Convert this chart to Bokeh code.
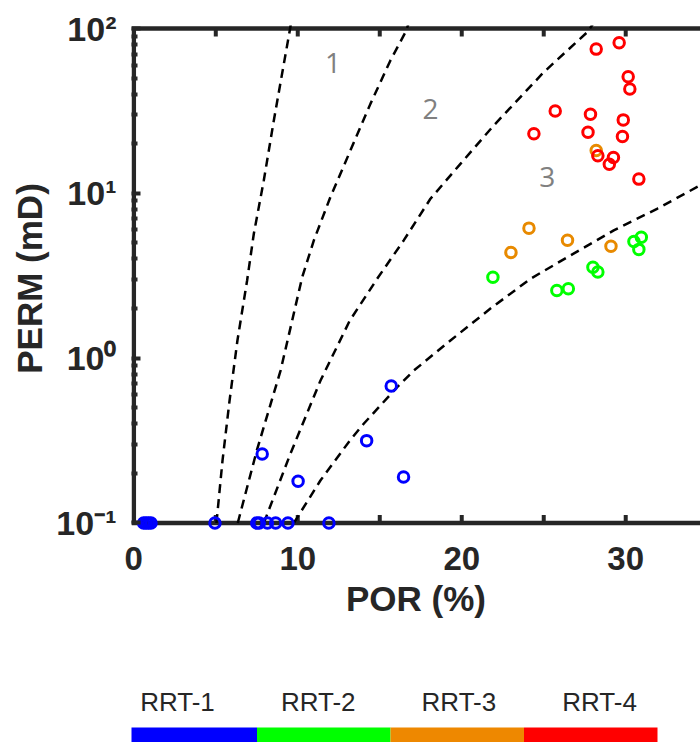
import numpy as np
from bokeh.plotting import figure
from bokeh.models import Range1d, FixedTicker, Span
from bokeh.layouts import column
from bokeh.embed import file_html
from bokeh.resources import INLINE
from bokeh.core.properties import value

# ---------------- data ----------------
rrt1_por = [0.6, 0.75, 0.9, 1.05, 4.95, 7.5, 7.65, 8.15, 8.65, 9.4, 11.9,
            7.83, 10.02, 14.2, 15.7, 16.45]
rrt1_perm = [0.1, 0.1, 0.1, 0.1, 0.1, 0.1, 0.1, 0.1, 0.1, 0.1, 0.1,
             0.262, 0.179, 0.316, 0.678, 0.19]

rrt2_por = [21.9, 25.8, 26.5, 28.0, 28.3, 30.5, 30.8, 30.95]
rrt2_perm = [3.1, 2.57, 2.64, 3.56, 3.33, 5.1, 4.57, 5.42]

rrt3_por = [23.0, 24.1, 26.45, 28.2, 29.1]
rrt3_perm = [4.38, 6.15, 5.2, 18.2, 4.77]

rrt4_por = [28.2, 29.6, 30.15, 30.25, 25.7, 27.85, 29.85, 24.4, 27.7, 29.8,
            28.3, 29.25, 29.0, 30.8]
rrt4_perm = [75, 82, 51, 43, 31.6, 30.2, 27.9, 23.0, 23.5, 22.1,
             16.9, 16.5, 15.0, 12.2]

# dashed boundary curves
c1_por = [5.04, 5.41, 5.84, 6.32, 6.91, 7.32, 7.93, 8.54, 9.15, 9.51, 9.6]
c1_perm = [0.1, 0.239, 0.553, 1.28, 2.96, 5.69, 12.0, 27.7, 61, 97, 110]

c2_por = [6.34, 7.02, 7.5, 8.95, 10.27, 10.98, 11.99, 13.21, 14.43, 15.65, 16.57, 16.8]
c2_perm = [0.1, 0.181, 0.275, 0.84, 3.1, 5.18, 9.5, 18.2, 34.9, 64, 95, 110]

c3_por = [7.93, 9.55, 11.38, 13.17, 14.84, 16.46, 18.09, 19.92, 21.95, 25.0, 27.65, 28.1]
c3_perm = [0.1, 0.263, 0.73, 1.69, 3.03, 5.18, 9.27, 15.1, 25.8, 54.3, 95, 110]

c4_por = [9.76, 11.38, 13.17, 14.02, 16.06, 17.07, 19.31, 21.75, 24.19, 26.63, 29.27, 31.91, 34.55, 35.5]
c4_perm = [0.1, 0.181, 0.316, 0.40, 0.667, 0.84, 1.28, 2.0, 3.03, 4.2, 5.96, 8.06, 11.2, 12.5]

curve_label_text = ["1", "2", "3"]
curve_label_por = [12.15, 18.09, 25.21]
curve_label_perm = [61.8, 32.6, 12.5]

x_ticks = [0, 10, 20, 30]
x_inner_ticks = [5, 10, 15, 20, 25, 30]
y_ticks = [0.1, 1, 10, 100]
y_tick_labels = {0.1: "10\u207b\u00b9", 1: "10\u2070", 10: "10\u00b9", 100: "10\u00b2"}
y_minor = [m * d for d in (0.1, 1, 10) for m in range(2, 10)]

legend_labels = ["RRT-1", "RRT-2", "RRT-3", "RRT-4"]
marker_colors = ["#0000FF", "#00FF00", "#E88A00", "#FF0000"]
bar_colors = ["#0000FF", "#00FF00", "#EE8800", "#FF0000"]

# ---------------- main plot ----------------
AX = "#262626"
TICK_FONT = "Liberation Sans"
PX_PER_DECADE = 164.83
W, H1, H2 = 700, 648, 94
LEFT, TOP, BOTTOM = 131, 25, 117

p = figure(width=W, height=H1, x_range=Range1d(-0.14, 34.56),
           y_range=Range1d(0.0888, 104.3), y_axis_type="log",
           output_backend="svg", toolbar_location=None,
           min_border_left=LEFT, min_border_right=0, min_border_top=TOP,
           min_border_bottom=BOTTOM)
p.grid.visible = False
p.outline_line_color = None

# bottom axis: labels only
xa = p.xaxis[0]
xa.ticker = FixedTicker(ticks=x_ticks)
xa.axis_line_color = None
xa.major_tick_line_color = None
xa.minor_tick_line_color = None
xa.major_label_text_font = TICK_FONT
xa.major_label_text_font_style = "bold"
xa.major_label_text_font_size = "33px"
xa.major_label_text_color = AX
xa.major_label_standoff = 9
xa.axis_label = "POR (%)"
xa.axis_label_text_font = TICK_FONT
xa.axis_label_text_font_style = "bold"
xa.axis_label_text_font_size = "35px"
xa.axis_label_text_color = AX
xa.axis_label_standoff = 6

# left axis
ya = p.yaxis[0]
ya.ticker = FixedTicker(ticks=y_ticks, minor_ticks=y_minor)
ya.major_label_overrides = y_tick_labels
ya.axis_line_color = None
ya.major_tick_in = 9
ya.major_tick_out = 0
ya.minor_tick_in = 6
ya.minor_tick_out = 0
ya.major_tick_line_width = 4
ya.minor_tick_line_width = 4
ya.major_tick_line_color = AX
ya.minor_tick_line_color = AX
ya.major_label_text_font = TICK_FONT
ya.major_label_text_font_style = "bold"
ya.major_label_text_font_size = "34px"
ya.major_label_text_color = AX
ya.major_label_standoff = 15
ya.axis_label = "PERM (mD)"
ya.axis_label_text_font = TICK_FONT
ya.axis_label_text_font_style = "bold"
ya.axis_label_text_font_size = "35px"
ya.axis_label_text_color = AX
ya.axis_label_standoff = 4

# box lines at y=0.1, y=100 and x=0, with inner ticks on top and bottom
ymin, ymax = y_ticks[0], y_ticks[-1]
for loc in (ymin, ymax):
    p.add_layout(Span(location=loc, dimension="width", line_color=AX,
                      line_width=4.5, level="underlay"))
p.segment(x0=[0], y0=[ymin], x1=[0], y1=[ymax],
          line_color=AX, line_width=4.5, level="underlay")
n_t = len(x_inner_ticks)
tick_step = 10 ** (8 / PX_PER_DECADE)
p.segment(x0=x_inner_ticks, y0=[ymin] * n_t, x1=x_inner_ticks, y1=[ymin * tick_step] * n_t,
          line_color=AX, line_width=4, level="underlay")
p.segment(x0=x_inner_ticks, y0=[ymax] * n_t, x1=x_inner_ticks, y1=[ymax / tick_step] * n_t,
          line_color=AX, line_width=4, level="underlay")

# dashed curves
for cx, cy in ((c1_por, c1_perm), (c2_por, c2_perm), (c3_por, c3_perm), (c4_por, c4_perm)):
    p.line(cx, cy, line_color="black", line_width=2.5, line_dash="9 6")

p.text(x=curve_label_por, y=curve_label_perm, text=curve_label_text,
       text_font=value("Open Sans"), text_font_size="28px", text_color="#808080",
       text_align="center", text_baseline="middle")

for xs, ys, col in ((rrt1_por, rrt1_perm, marker_colors[0]),
                    (rrt2_por, rrt2_perm, marker_colors[1]),
                    (rrt3_por, rrt3_perm, marker_colors[2]),
                    (rrt4_por, rrt4_perm, marker_colors[3])):
    p.scatter(xs, ys, marker="circle", size=10.5, fill_color=None,
              line_color=col, line_width=3)

# ---------------- colour-strip legend (page-pixel coordinates) ----------------
BAR_X0, SEG_W = 123, 133.5
TEXT_X0, TEXT_DX = 177, 140.7
TEXT_Y, BAR_TOP, BAR_BOTTOM = 53, 79, 94

q = figure(width=W, height=H2, x_range=Range1d(LEFT, W), y_range=Range1d(H2, 0),
           output_backend="svg", toolbar_location=None,
           x_axis_location=None, y_axis_location=None,
           min_border_left=LEFT, min_border_right=0, min_border_top=0, min_border_bottom=0)
q.grid.visible = False
q.outline_line_color = None
n = len(legend_labels)
q.quad(left=[BAR_X0 + i * SEG_W for i in range(n)],
       right=[BAR_X0 + (i + 1) * SEG_W for i in range(n)],
       top=[BAR_TOP] * n, bottom=[BAR_BOTTOM] * n,
       fill_color=bar_colors, line_color=None)
q.text(x=[TEXT_X0 + i * TEXT_DX for i in range(n)], y=[TEXT_Y] * n, text=legend_labels,
       text_font=value("Liberation Sans"), text_font_size="26px", text_color=AX,
       text_align="center", text_baseline="alphabetic")

layout = column(p, q, spacing=0)
open("out.html", "w").write(file_html(layout, INLINE))
